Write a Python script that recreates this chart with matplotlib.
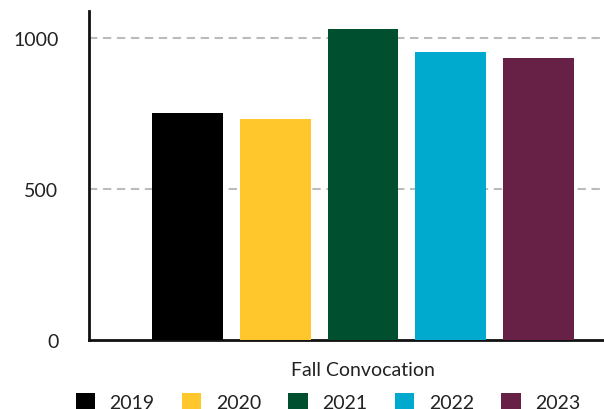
import matplotlib
matplotlib.use("Agg")
import matplotlib.pyplot as plt
import numpy as np

# data
category = "Fall Convocation"
years = ["2019", "2020", "2021", "2022", "2023"]
values = [750, 730, 1031, 952, 932]
colors = ["#000000", "#FFC72C", "#00502F", "#00A9CE", "#672146"]
y_ticks = [0, 500, 1000]

plt.rcParams["font.family"] = ["Lato", "DejaVu Sans"]

W, H = 604, 410
fig = plt.figure(figsize=(W / 100, H / 100), dpi=100)

# axes runs past the right edge of the figure, as in the reference
left, right = 89, 637
top, bottom = 12, 341
ax = fig.add_axes([left / W, 1 - bottom / H, (right - left) / W, (bottom - top) / H])

offsets = np.arange(len(years)) - (len(years) - 1) / 2
for off, yr, val, col in zip(offsets, years, values, colors):
    ax.bar(off, val, width=0.81, color=col, label=yr, zorder=3)

ax.set_xlim(-3.13, 3.13)
ax.set_ylim(0, 1089)
ax.set_yticks(y_ticks)
ax.set_yticklabels([str(t) for t in y_ticks])
ax.tick_params(axis="y", length=0, pad=22, labelsize=14, labelcolor="#222222")
ax.set_xticks([0])
ax.set_xticklabels([category])
ax.tick_params(axis="x", length=0, pad=15, labelsize=14, labelcolor="#222222")

for t in y_ticks[1:]:
    ax.axhline(t, color="#bbbbbb", linewidth=1.5, linestyle=(0, (4, 2.7)), zorder=1)

for side in ["top", "right"]:
    ax.spines[side].set_visible(False)
for side in ["left", "bottom"]:
    ax.spines[side].set_linewidth(2)
    ax.spines[side].set_color("#111111")

fig.legend(loc="upper center", bbox_to_anchor=(328 / W, 1 - 394 / H), ncol=5,
           frameon=False, fontsize=14, handlelength=1.0, handleheight=1.0,
           handletextpad=0.75, columnspacing=1.4, borderpad=0, borderaxespad=0,
           labelcolor="#222222")

fig.savefig("out.png", dpi=100)
